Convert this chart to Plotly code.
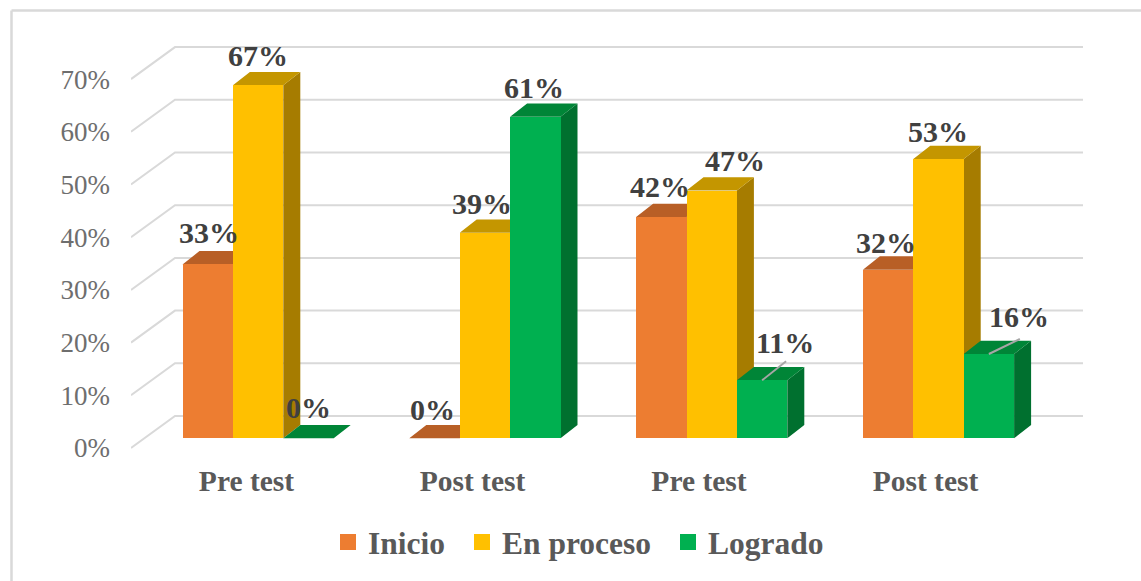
import plotly.graph_objects as go

categories = ["Pre test", "Post test", "Pre test", "Post test"]
inicio = [33, 0, 42, 32]
en_proceso = [67, 39, 47, 53]
logrado = [0, 61, 11, 16]
y_ticks = [0, 10, 20, 30, 40, 50, 60, 70]

# Series styling: name, values, front, side, top colours
SERIES = [
    ("Inicio", inicio, "#ED7D31", "#AE5A21", "#B85F26"),
    ("En proceso", en_proceso, "#FFC000", "#A67C00", "#C49600"),
    ("Logrado", logrado, "#00B050", "#00702F", "#008537"),
]

W, H = 1141, 581
L, R, T, B = 131, 1100, 20, 456
PX_X = 226.8   # px per group
PX_Y = 5.27    # px per percentage point
X0_PX, Y0_PX = 182.5, 438.3
x_range = [(L - X0_PX) / PX_X, (R - X0_PX) / PX_X]
y_range = [(Y0_PX - B) / PX_Y, (Y0_PX - T) / PX_Y]
BAR_W = 50.4 / PX_X
DEPTH_X, DEPTH_Y = 17 / PX_X, 13.3 / PX_Y


def xpx(p):
    return (p - X0_PX) / PX_X


FRONT_OFF = (Y0_PX - 448) / PX_Y
BACK_OFF = (Y0_PX - 416) / PX_Y

fig = go.Figure()

# Walls / gridlines
gx, gy = [], []
for t in y_ticks:
    gx += [xpx(131), xpx(175), xpx(1083), None]
    gy += [t + FRONT_OFF, t + BACK_OFF, t + BACK_OFF, None]
fig.add_trace(go.Scatter(x=gx, y=gy, mode="lines", line=dict(color="#D9D9D9", width=2),
                         showlegend=False, hoverinfo="skip"))

# 3-D faces, left to right
for k, (name, vals, front, side, top) in enumerate(SERIES):
    sx, sy, tx, ty = [], [], [], []
    for i, v in enumerate(vals):
        x1 = i + k * BAR_W
        x2 = x1 + BAR_W
        sx += [x2, x2 + DEPTH_X, x2 + DEPTH_X, x2, x2, None]
        sy += [0, DEPTH_Y, v + DEPTH_Y, v, 0, None]
        tx += [x1, x1 + DEPTH_X, x2 + DEPTH_X, x2, x1, None]
        ty += [v, v + DEPTH_Y, v + DEPTH_Y, v, v, None]
    fig.add_trace(go.Scatter(x=sx, y=sy, mode="lines", fill="toself", fillcolor=side,
                             line=dict(width=0, color=side), showlegend=False, hoverinfo="skip"))
    fig.add_trace(go.Scatter(x=tx, y=ty, mode="lines", fill="toself", fillcolor=top,
                             line=dict(width=0, color=top), showlegend=False, hoverinfo="skip"))

# Front faces on an overlay so they hide the faces behind them
for k, (name, vals, front, side, top) in enumerate(SERIES):
    fig.add_trace(go.Bar(x=[i + (k + 0.5) * BAR_W for i in range(len(vals))], y=vals,
                         width=BAR_W, name=name, marker=dict(color=front, line=dict(width=0)),
                         showlegend=False, xaxis="x2", yaxis="y2"))

# Legend keys, one legend per entry so each sits at its own place
LEGEND_IDS = ["legend", "legend2", "legend3"]
LEGEND_TEXT_PX = [368, 502, 708]
for (name, vals, front, side, top), lid in zip(SERIES, LEGEND_IDS):
    fig.add_trace(go.Scatter(x=[None], y=[None], mode="markers", name=name, legend=lid,
                             marker=dict(symbol="square", size=16, color=front)))

# Leader lines
lx, ly = [], []
for i, k, dx, dy in [(2, 2, 24, 19), (3, 2, 31, 15)]:
    v = SERIES[k][1][i]
    c = i + (k + 0.5) * BAR_W
    lx += [c, c + dx / PX_X, None]
    ly += [v, v + dy / PX_Y, None]
fig.add_trace(go.Scatter(x=lx, y=ly, mode="lines", line=dict(color="#A6A6A6", width=2),
                         showlegend=False, hoverinfo="skip", xaxis="x2", yaxis="y2"))

# Data labels: pixel shifts from each bar's top-centre
SHIFTS = {
    (0, 0): (1, 32), (1, 0): (0, 30), (2, 0): (0, 31),
    (0, 1): (-2, 29), (1, 1): (-3, 29), (2, 1): (-1, 29),
    (0, 2): (-1, 30), (1, 2): (23, 30), (2, 2): (23, 38),
    (0, 3): (-2, 27), (1, 3): (-1, 27), (2, 3): (30, 37),
}
anns = []
for k, (name, vals, *_r) in enumerate(SERIES):
    for i, v in enumerate(vals):
        sx_, sy_ = SHIFTS[(k, i)]
        anns.append(dict(x=i + (k + 0.5) * BAR_W, y=v, xref="x", yref="y", text=f"{v}%",
                         showarrow=False, xshift=sx_, yshift=sy_, xanchor="center", yanchor="middle",
                         font=dict(family="Liberation Serif", size=30, color="#404040", weight="bold")))

cat_px = [246.5, 472.5, 699, 925.5]
FRAME = "#D9D9D9"
shapes = [
    dict(type="line", xref="paper", yref="paper", x0=(11.5 - L) / (R - L), x1=(11.5 - L) / (R - L),
         y0=(B - 10.5) / (B - T), y1=(B - 600) / (B - T), line=dict(color=FRAME, width=2.5)),
    dict(type="line", xref="paper", yref="paper", x0=(11.5 - L) / (R - L), x1=(1160 - L) / (R - L),
         y0=(B - 10.5) / (B - T), y1=(B - 10.5) / (B - T), line=dict(color=FRAME, width=2.5)),
]

legend_font = dict(family="Liberation Serif", size=31.5, color="#595959", weight="bold")
legends = {
    lid: dict(orientation="h", xref="container", yref="container",
              xanchor="left", x=(px - 40) / W, yanchor="middle", y=(H - 542) / H,
              bgcolor="rgba(0,0,0,0)", font=legend_font)
    for lid, px in zip(LEGEND_IDS, LEGEND_TEXT_PX)
}

fig.update_layout(
    width=W, height=H, autosize=False,
    margin=dict(l=L, r=W - R, t=T, b=H - B, pad=0),
    paper_bgcolor="white", plot_bgcolor="rgba(0,0,0,0)",
    barmode="overlay", bargap=0,
    xaxis=dict(range=x_range, showgrid=False, zeroline=False, showline=False, ticks="",
               tickmode="array", tickvals=[xpx(p) for p in cat_px], ticktext=categories,
               ticklabelstandoff=4,
               tickfont=dict(family="Liberation Serif", size=29.5, color="#595959", weight="bold")),
    yaxis=dict(range=y_range, showgrid=False, zeroline=False, showline=False, ticks="",
               tickmode="array", tickvals=[t + FRONT_OFF for t in y_ticks],
               ticktext=[f"{t}%" for t in y_ticks], ticklabelstandoff=20,
               tickfont=dict(family="Liberation Serif", size=27, color="#6E6E6E")),
    xaxis2=dict(range=x_range, overlaying="x", visible=False),
    yaxis2=dict(range=y_range, overlaying="y", visible=False),
    annotations=anns, shapes=shapes, **legends,
)

fig.write_html("out.html", config={"displayModeBar": False},
               post_script="document.body.style.margin='0';document.body.style.overflow='hidden';")
